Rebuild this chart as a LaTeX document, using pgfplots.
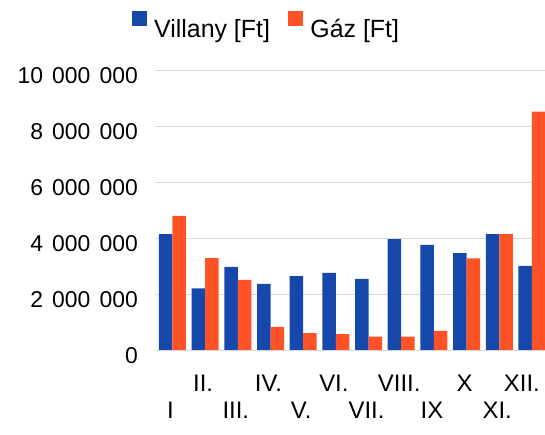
\documentclass[border=0pt]{standalone}
\usepackage{pgfplots}
\pgfplotsset{compat=1.18}
\usepackage{fontspec}
\setmainfont{Liberation Sans}
\definecolor{vblue}{RGB}{22,72,172}
\definecolor{gred}{RGB}{255,82,38}
\newcommand{\s}{\hspace{0.4em}}
\begin{document}
\begin{tikzpicture}
\useasboundingbox (0,0) rectangle (545bp,435bp);
\clip (0,0) rectangle (545bp,435bp);
\begin{axis}[
  at={(155bp,85bp)}, anchor=south west,
  scale only axis, width=390bp, height=280bp,
  xmin=-0.535, xmax=11.4, ymin=0, ymax=10000000,
  ybar=0pt, bar width=13.5bp,
  axis line style={draw=none},
  major tick length=0pt,
  ymajorgrids, grid style={gray!30, line width=0.8pt},
  scaled y ticks=false,
  ytick={0,2000000,4000000,6000000,8000000,10000000},
  yticklabels={0, 2\s000\s000, 4\s000\s000, 6\s000\s000, 8\s000\s000, 10\s000\s000},
  yticklabel style={font=\fontsize{23}{27}\selectfont, anchor=east, inner sep=0pt, xshift=-17bp, yshift=-6bp},
  xtick={1,3,5,7,9,11},
  xticklabels={II., IV., VI., VIII., X, \hspace*{-16bp}XII.},
  extra x ticks={0,2,4,6,8,10},
  extra x tick labels={I, III., V., VII., IX, XI.},
  extra x tick style={xmajorgrids=false, tick label style={yshift=-27bp}},
  xticklabel style={font=\fontsize{24}{28}\selectfont, anchor=north, inner sep=0pt, yshift=-25bp, xshift=-2bp},
  legend columns=2,
  legend style={at={(0.283,1.16)}, anchor=center, draw=none, fill=none, inner sep=0pt,
    font=\fontsize{25}{30}\selectfont, nodes={inner sep=0pt},
    /tikz/every odd column/.append style={column sep=7.5bp},
    /tikz/every even column/.append style={column sep=18bp}},
  legend image code/.code={\fill[#1] (0bp,3.5bp) rectangle (15bp,18.5bp);},
]
\addplot[fill=vblue, draw=none] coordinates {
 (0,4140000) (1,2200000) (2,2970000) (3,2360000) (4,2640000) (5,2750000)
 (6,2540000) (7,3960000) (8,3750000) (9,3460000) (10,4140000) (11,3000000)};
\addplot[fill=gred, draw=none] coordinates {
 (0,4790000) (1,3280000) (2,2500000) (3,830000) (4,600000) (5,570000)
 (6,480000) (7,480000) (8,680000) (9,3270000) (10,4140000) (11,8510000)};
\legend{Villany [Ft], Gáz [Ft]}
\end{axis}
\end{tikzpicture}
\end{document}
